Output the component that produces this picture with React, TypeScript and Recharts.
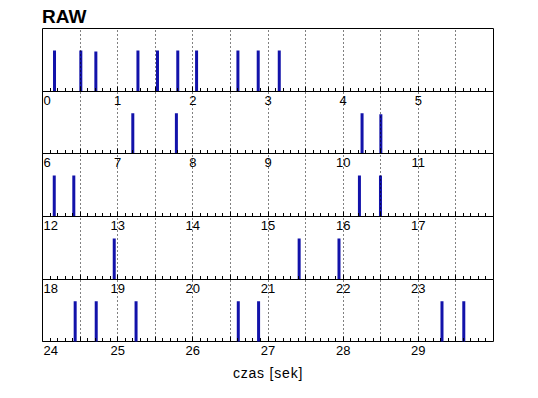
import { ComposedChart, XAxis, YAxis, Bar, ReferenceArea, ReferenceLine } from 'recharts';

// each row of the raster shows 6 seconds
const panelStarts = [0, 6, 12, 18, 24];
const panelLength = 6;

// spike times [s] and relative heights
const spikeTimes = [
  0.16, 0.51, 0.71, 1.27, 1.53, 1.8, 2.05, 2.6, 2.87, 3.15,
  7.2, 7.78, 10.25, 10.5,
  12.16, 12.42, 16.22, 16.5,
  18.96, 21.42, 21.95,
  24.43, 24.71, 25.24, 26.6, 26.87, 29.31, 29.6,
];
const spikeHeights = [
  0.65, 0.65, 0.635, 0.65, 0.65, 0.65, 0.65, 0.65, 0.65, 0.65,
  0.65, 0.65, 0.65, 0.635,
  0.65, 0.65, 0.65, 0.65,
  0.65, 0.65, 0.65,
  0.65, 0.65, 0.65, 0.65, 0.65, 0.65, 0.65,
];

const W = 538;
const H = 398;
const rowEdges = [28.5, 91.5, 153.5, 216.5, 279.5, 341.5];
const plotLeft = 42.5;
const plotRight = 493.5;
const axisH = 20;
const font = '"Liberation Sans", Arial, sans-serif';
const spikeColor = '#1212aa';

const crisp = (v: number) => Math.floor(v) + 0.5;

function AxisTick(props: any) {
  const { x, y, payload, start } = props;
  const v: number = payload.value;
  const idx = Math.round((v - start) * 10);
  const major = idx % 5 === 0;
  const whole = idx % 10 === 0 && idx < panelLength * 10;
  const cx = crisp(x);
  return (
    <g>
      <line x1={cx} x2={cx} y1={y} y2={y - (major ? 5 : 3.5)} stroke="#000" strokeWidth={1} />
      {whole && (
        <text
          x={idx === 0 ? x + 1 : x}
          y={y + 13}
          textAnchor={idx === 0 ? 'start' : 'middle'}
          fontSize={13}
          fontFamily={font}
          fill="#000"
        >
          {Math.round(v)}
        </text>
      )}
    </g>
  );
}

function DottedLine(props: any) {
  const { x1, y1, x2, y2 } = props;
  const cx = crisp(x1);
  return <line x1={cx} x2={cx} y1={y1} y2={y2} stroke="#000" strokeWidth={1} strokeDasharray="1 3" />;
}

function RasterRow({ row }: { row: number }) {
  const start = panelStarts[row];
  const end = start + panelLength;
  const data = spikeTimes
    .map((t, i) => ({ t, h: spikeHeights[i] }))
    .filter((d) => d.t >= start && d.t < end);

  const minorTicks: number[] = [];
  for (let i = 0; i < panelLength * 10; i++) minorTicks.push(start + i / 10);
  const gridLines: number[] = [];
  for (let i = 1; i < panelLength * 2; i++) gridLines.push(start + i / 2);

  return (
    <div style={{ position: 'absolute', left: 0, top: 0 }}>
      <ComposedChart
        width={W}
        height={H}
        data={data}
        margin={{ top: rowEdges[row], bottom: H - rowEdges[row + 1] - axisH, left: plotLeft, right: W - plotRight }}
      >
        <XAxis
          type="number"
          dataKey="t"
          domain={[start, end]}
          ticks={minorTicks}
          interval={0}
          height={axisH}
          axisLine={false}
          tickLine={false}
          tickSize={0}
          tickMargin={0}
          allowDataOverflow
          tick={(p: any) => <AxisTick {...p} start={start} />}
        />
        <YAxis type="number" domain={[0, 1]} hide />
        {gridLines.map((g) => (
          <ReferenceLine key={g} x={g} stroke="#000" shape={<DottedLine />} />
        ))}
        <ReferenceArea x1={start} x2={end} y1={0} y2={1} fill="none" stroke="#000" strokeWidth={1} />
        <Bar dataKey="h" fill={spikeColor} barSize={3} isAnimationActive={false} />
      </ComposedChart>
    </div>
  );
}

export default function App() {
  return (
    <div style={{ position: 'absolute', left: 0, top: 0, width: W, height: H, background: '#fff', fontFamily: font }}>
      <div style={{ position: 'absolute', left: 42, top: 7, fontSize: 19, fontWeight: 'bold', lineHeight: 1 }}>RAW</div>
      {panelStarts.map((_, r) => (
        <RasterRow key={r} row={r} />
      ))}
      <div
        style={{
          position: 'absolute',
          left: 168,
          width: 200,
          top: 366,
          textAlign: 'center',
          fontSize: 14,
          letterSpacing: 0.8,
          lineHeight: 1,
        }}
      >
        czas [sek]
      </div>
    </div>
  );
}
